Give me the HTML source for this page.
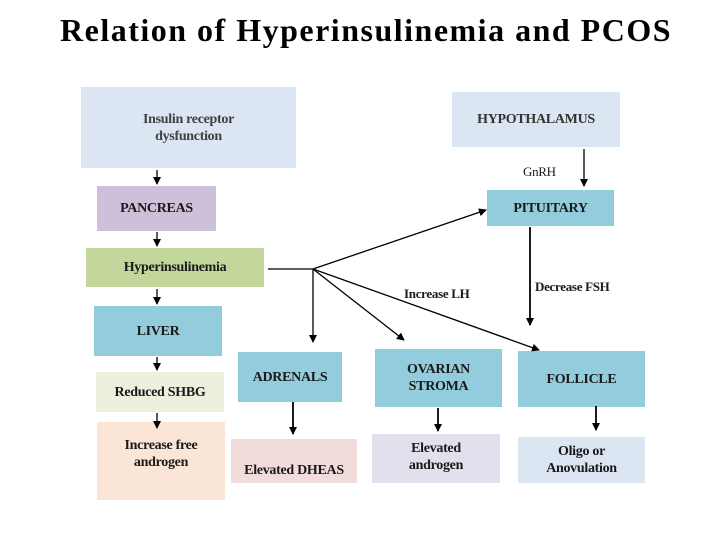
<!DOCTYPE html>
<html><head><style>
body{margin:0;width:720px;height:540px;background:#fff;position:relative;overflow:hidden;font-family:"Liberation Serif",serif}
.b{position:absolute;display:flex;align-items:center;justify-content:center;text-align:center;font-weight:bold;font-size:14px;color:#1a1a1a;line-height:17px;letter-spacing:-0.3px}
.t{position:absolute;font-size:13px;font-weight:bold;color:#1a1a1a;letter-spacing:-0.3px}
</style></head><body>
<div style="position:absolute;left:60px;top:12px;font-size:32px;font-weight:bold;letter-spacing:1.5px;color:#000;white-space:nowrap">Relation of Hyperinsulinemia and PCOS</div>
<div class="b" style="left:81px;top:87px;width:215px;height:81px;background:#dce6f2;color:#404040">Insulin receptor<br>dysfunction</div>
<div class="b" style="left:452px;top:92px;width:168px;height:55px;background:#dce6f2;color:#333">HYPOTHALAMUS</div>
<div class="b" style="left:97px;top:186px;width:119px;height:45px;background:#ccc0da">PANCREAS</div>
<div class="b" style="left:487px;top:190px;width:127px;height:36px;background:#93cddd">PITUITARY</div>
<div class="b" style="left:86px;top:248px;width:178px;height:39px;background:#c3d69b">Hyperinsulinemia</div>
<div class="b" style="left:94px;top:306px;width:128px;height:50px;background:#93cddd">LIVER</div>
<div class="b" style="left:238px;top:352px;width:104px;height:50px;background:#93cddd">ADRENALS</div>
<div class="b" style="left:375px;top:349px;width:127px;height:58px;background:#93cddd">OVARIAN<br>STROMA</div>
<div class="b" style="left:518px;top:351px;width:127px;height:56px;background:#93cddd">FOLLICLE</div>
<div class="b" style="left:96px;top:372px;width:128px;height:40px;background:#ebf1de">Reduced SHBG</div>
<div class="b" style="left:97px;top:422px;width:128px;height:78px;background:#fbe5d6;padding-bottom:14px;box-sizing:border-box">Increase free<br>androgen</div>
<div class="b" style="left:231px;top:439px;width:126px;height:44px;background:#f2dcdb;padding-top:18px;box-sizing:border-box">Elevated DHEAS</div>
<div class="b" style="left:372px;top:434px;width:128px;height:49px;background:#e4dfec;padding-bottom:4px;box-sizing:border-box">Elevated<br>androgen</div>
<div class="b" style="left:518px;top:437px;width:127px;height:46px;background:#dce6f2">Oligo  or<br>Anovulation</div>
<div class="t" style="left:523px;top:164px;font-weight:normal">GnRH</div>
<div class="t" style="left:404px;top:286px">Increase LH</div>
<div class="t" style="left:535px;top:279px">Decrease FSH</div>
<svg width="720" height="540" style="position:absolute;left:0;top:0">
<defs><marker id="a" markerWidth="8" markerHeight="8" refX="7" refY="4" orient="auto" markerUnits="userSpaceOnUse"><path d="M0,0 L8,4 L0,8z" fill="#000"/></marker></defs>
<g stroke="#000" stroke-width="1.3" fill="none">
<line x1="157" y1="170" x2="157" y2="184" marker-end="url(#a)"/>
<line x1="157" y1="232" x2="157" y2="246" marker-end="url(#a)"/>
<line x1="157" y1="289" x2="157" y2="304" marker-end="url(#a)"/>
<line x1="157" y1="357" x2="157" y2="370" marker-end="url(#a)"/>
<line x1="157" y1="413" x2="157" y2="428" marker-end="url(#a)"/>
<line x1="584" y1="149" x2="584" y2="186" marker-end="url(#a)"/>
<line x1="530" y1="227" x2="530" y2="325" stroke-width="1.8" marker-end="url(#a)"/>
<line x1="268" y1="269" x2="313" y2="269"/>
<line x1="313" y1="269" x2="313" y2="342" marker-end="url(#a)"/>
<line x1="313" y1="269" x2="404" y2="340" marker-end="url(#a)"/>
<line x1="313" y1="269" x2="539" y2="350" marker-end="url(#a)"/>
<line x1="313" y1="269" x2="486" y2="210" marker-end="url(#a)"/>
<line x1="293" y1="402" x2="293" y2="434" stroke-width="1.8" marker-end="url(#a)"/>
<line x1="438" y1="408" x2="438" y2="431" stroke-width="1.8" marker-end="url(#a)"/>
<line x1="596" y1="406" x2="596" y2="430" stroke-width="1.8" marker-end="url(#a)"/>
</g></svg>
</body></html>
